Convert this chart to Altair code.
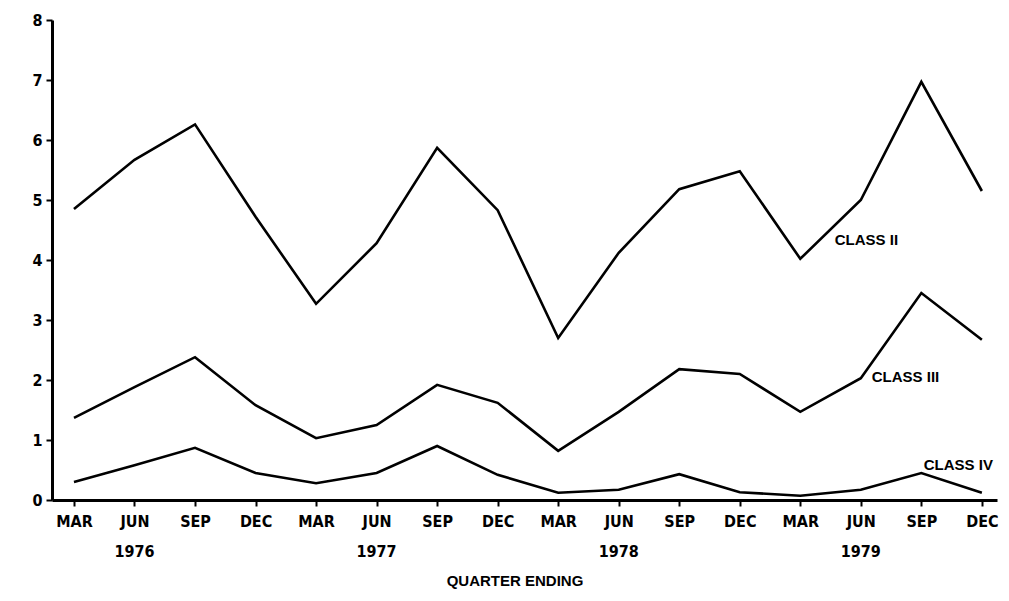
import json
import altair as alt
import pandas as pd

quarters = ["MAR", "JUN", "SEP", "DEC"] * 4
class_ii = [4.85, 5.67, 6.26, 4.72, 3.27, 4.28, 5.87, 4.83, 2.70, 4.12, 5.18, 5.48, 4.02, 5.00, 6.97, 5.15]
class_iii = [1.37, 1.88, 2.38, 1.58, 1.03, 1.25, 1.92, 1.62, 0.82, 1.47, 2.18, 2.10, 1.47, 2.03, 3.45, 2.67]
class_iv = [0.30, 0.58, 0.87, 0.45, 0.28, 0.45, 0.90, 0.42, 0.12, 0.17, 0.43, 0.13, 0.07, 0.17, 0.45, 0.12]
series_names = ["CLASS II", "CLASS III", "CLASS IV"]
label_x = [12.57, 13.18, 14.04]
label_y = [4.33, 2.05, 0.58]
years = ["1976", "1977", "1978", "1979"]
year_pos = [1, 5, 9, 13]
x_title = "QUARTER ENDING"

idx = list(range(len(quarters)))
rows = []
for name, vals in zip(series_names, [class_ii, class_iii, class_iv]):
    for i, v in zip(idx, vals):
        rows.append({"series": name, "q": i, "value": v})
df = pd.DataFrame(rows)
lab_df = pd.DataFrame({"text": series_names, "x": label_x, "y": label_y})
yr_df = pd.DataFrame({"text": years, "x": year_pos})
title_df = pd.DataFrame({"text": [x_title]})

FONT = "DejaVu Sans Condensed, Liberation Sans Narrow, sans-serif"
FONT2 = "Liberation Sans, Arial, sans-serif"

xscale = alt.Scale(domain=[-0.363, 15.25], nice=False, zero=False)
yscale = alt.Scale(domain=[0, 8], nice=False)

label_expr = json.dumps(quarters) + "[datum.value]"

xaxis = alt.Axis(values=idx, labelExpr=label_expr, title=None, grid=False,
                 domainColor="black", domainWidth=3, tickColor="black", tickWidth=2,
                 tickSize=6, labelPadding=7, labelFont=FONT, labelFontSize=16,
                 labelFontWeight="bold", labelColor="black")
yaxis = alt.Axis(values=list(range(9)), format="d", title=None, grid=False,
                 domainColor="black", domainWidth=3, tickColor="black", tickWidth=2,
                 tickSize=6, labelPadding=4, labelFont=FONT, labelFontSize=16,
                 labelFontWeight="bold", labelColor="black")

lines = alt.Chart(df).mark_line(color="black", strokeWidth=2.6).encode(
    x=alt.X("q:Q", scale=xscale, axis=xaxis),
    y=alt.Y("value:Q", scale=yscale, axis=yaxis),
    detail="series:N",
)

labels = alt.Chart(lab_df).mark_text(align="left", baseline="middle", font=FONT2,
                                      fontWeight="bold", fontSize=15, color="black").encode(
    x=alt.X("x:Q", scale=xscale), y=alt.Y("y:Q", scale=yscale), text="text:N")

yrs = alt.Chart(yr_df).mark_text(align="center", baseline="middle", font=FONT,
                                 fontWeight="bold", fontSize=16, color="black").encode(
    x=alt.X("x:Q", scale=xscale), y=alt.value(532), text="text:N")

ttl = alt.Chart(title_df).mark_text(align="center", baseline="middle", font=FONT2,
                                    fontWeight="bold", fontSize=15, color="black").encode(
    x=alt.value(463), y=alt.value(561), text="text:N")

chart = alt.layer(lines, labels, yrs, ttl).properties(
    width=945, height=480,
    autosize=alt.AutoSizeParams(type="none"),
    padding={"left": 44, "top": 12, "right": 4, "bottom": 89},
    background="white",
).configure_view(stroke=None)

chart.save("out.html", embed_options={"renderer": "svg", "actions": False})
